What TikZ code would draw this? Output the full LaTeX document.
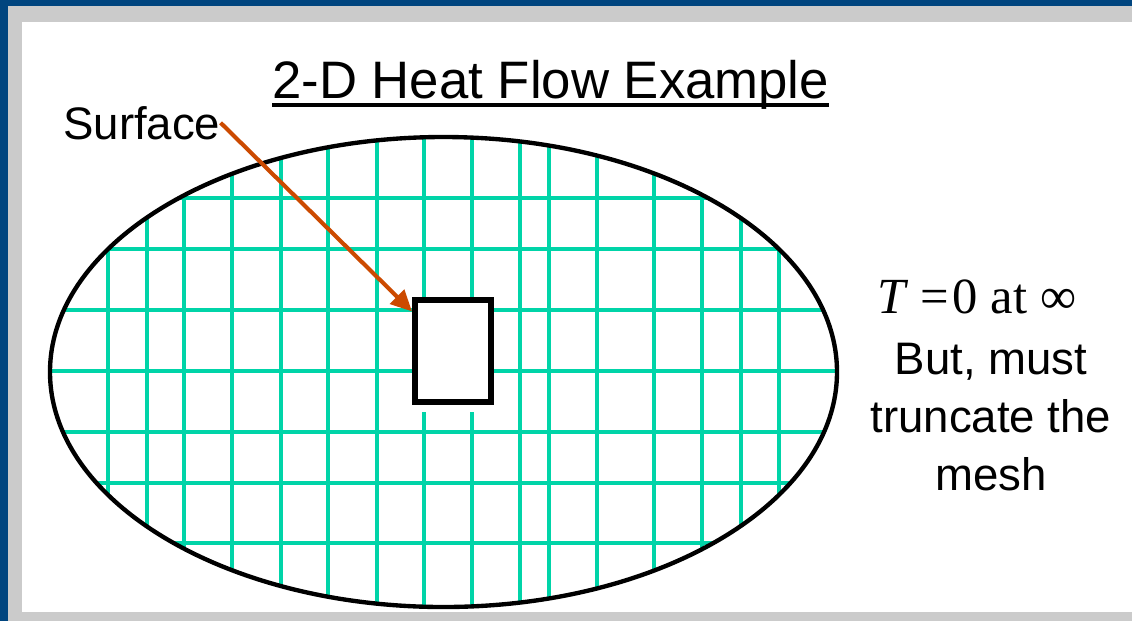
\documentclass[tikz,border=0pt]{standalone}
\usepackage{fontspec}
\setmainfont{Liberation Sans}
\newfontfamily\tmsfont{Liberation Serif}
\usetikzlibrary{arrows.meta,calc}
\definecolor{frm}{HTML}{00457F}
\definecolor{rim}{HTML}{CBCBCB}
\definecolor{msh}{HTML}{00D4A8}
\definecolor{arr}{HTML}{CC4A00}
\tikzset{
  gridln/.style={draw=msh,line width=2.9pt},
  bnd/.style={draw=black,line width=3.1pt},
  hole/.style={draw=black,line width=4.3pt,fill=white,minimum width=54pt,minimum height=72.5pt,inner sep=0pt},
  lbl/.style={inner sep=0pt,font=\fontsize{32.4pt}{41.3pt}\selectfont},
  ttl/.style={inner sep=0pt,font=\fontsize{37.5pt}{45pt}\selectfont},
  ar/.style={-{Triangle[length=15pt,width=14pt]},line width=2.9pt,draw=arr},
}

\begin{document}
\begin{tikzpicture}[x=0.025cm,y=-0.025cm]
% slide frame
\fill[rim] (0,0) rectangle (1132,621);
\fill[frm] (0,0) rectangle (1132,6);
\fill[frm] (0,0) rectangle (8,621);
\fill[white] (22,22) rectangle (1132,612);
% mesh, cut off at the outer boundary
\begin{scope}
\clip (443.5,372) ellipse [x radius=393.5,y radius=235];
\foreach \gx in {108,147,184,232,281,328,377,424,472,520,549,597,654,702,741,779}
  \draw[gridln] (\gx,100) -- (\gx,650);
\foreach \gy in {198,249,310,371,432,483,543}
  \draw[gridln] (0,\gy) -- (900,\gy);
\end{scope}
\draw[bnd] (443.5,372) ellipse [x radius=393.5,y radius=235];
% inner surface
\node[hole] (surf) at (453,351) {};
\fill[white] (surf.south west) rectangle ($(surf.south east)+(0,7)$);
% labels
\node[ttl,anchor=base west] (head) at (272,98) {2-D Heat Flow Example};
\draw[line width=2.2pt] ($(head.base west)+(0,7)$) -- ($(head.base east)+(0,7)$);
\node[lbl,anchor=base west] (slbl) at (63,139) {Surface};
\draw[ar] (slbl.east) -- (surf.136);
\node[lbl,font=\fontsize{36pt}{42pt}\selectfont] (bc) at (977,297) {{\tmsfont\textit{T}\hspace{0.22em}=\hspace{0.08em}0 at ∞}};
\node[lbl,align=center,anchor=north] (note) at (991,343) {But, must\\truncate the\\mesh};
\end{tikzpicture}
\end{document}
